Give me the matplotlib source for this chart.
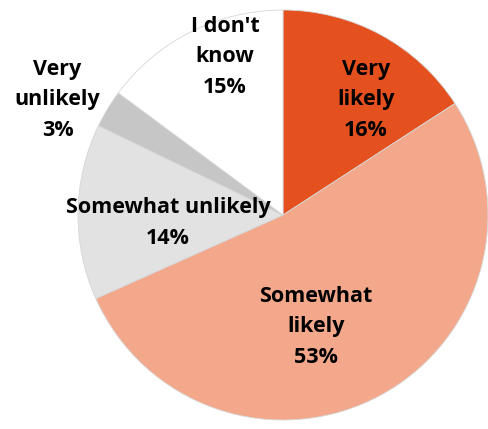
import matplotlib.pyplot as plt

plt.rcParams['font.family'] = ['Open Sans', 'DejaVu Sans']

# survey answers, clockwise from 12 o'clock
labels = ['Very\nlikely', 'Somewhat\nlikely', 'Somewhat unlikely', 'Very\nunlikely', "I don't\nknow"]
values = [16, 53, 14, 3, 15]
colors = ['#E5511E', '#F3A88B', '#E2E2E2', '#C6C6C6', '#FFFFFF']

# label anchor points (pie radius = 1)
label_pos = [(0.405, 0.561), (0.161, -0.546), (-0.561, -0.039), (-1.10, 0.561), (-0.283, 0.771)]

fig = plt.figure(figsize=(4.88, 4.29), dpi=100)
ax = fig.add_axes([78 / 488, 9 / 429, 410 / 488, 410 / 429])

ax.pie(values, colors=colors, startangle=90, counterclock=False, radius=1,
       wedgeprops=dict(edgecolor='#D6D6D6', linewidth=0.6))

for lab, v, (x, y) in zip(labels, values, label_pos):
    ax.text(x, y, f'{lab}\n{v}%', ha='center', va='center', fontsize=15.5,
            fontweight='bold', color='black', linespacing=1.6, clip_on=False)

ax.set_xlim(-1, 1)
ax.set_ylim(-1, 1)
ax.axis('off')

plt.savefig('out.png', dpi=100)
